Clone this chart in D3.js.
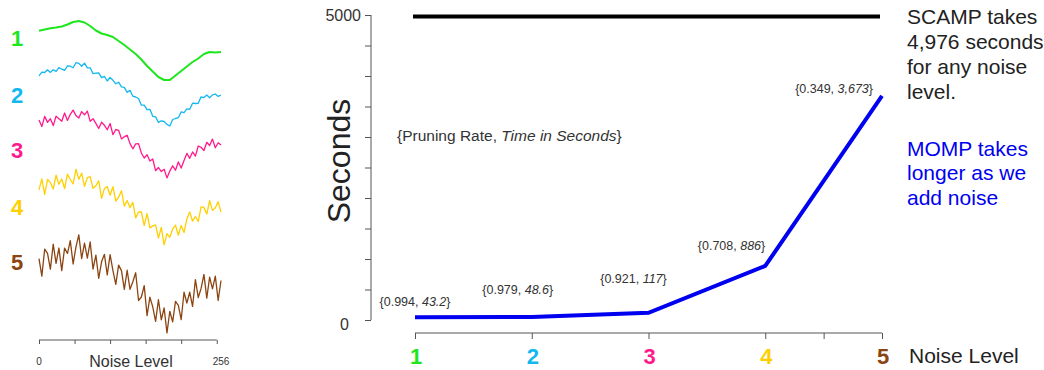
<!DOCTYPE html>
<html>
<head>
<meta charset="utf-8">
<script src="https://cdn.jsdelivr.net/npm/d3@7"></script>
<style>
  body { margin: 0; background: #fff; }
  text { font-family: "Liberation Sans", Arial, sans-serif; }
</style>
</head>
<body>
<script>
// noise levels and their colours
var levels = [1, 2, 3, 4, 5];
var levelColors = ["#1ee61e", "#12b8f0", "#ff1a8c", "#ffd000", "#8b4513"];

// timing results
var mompSeconds = [43.2, 48.6, 117, 886, 3673];
var pruningRate = [0.994, 0.979, 0.921, 0.708, 0.349];
var mompLabels = ["43.2", "48.6", "117", "886", "3,673"];
var scampSeconds = 4976;

var yTicks = [0, 500, 1000, 1500, 2000, 2500, 3000, 3500, 4000, 4500, 5000];
var xTicks = [1, 2, 3, 4, 4.5, 5];
var leftTicks = [0, 50, 100, 150, 200, 250];

// example time series, one per noise level (length 256)
var series1 = [0, .12, .25, .32, .42, .62, .87, .97, .82, .47, .02, -.28, -.43, -.63, -1.03, -1.43,
  -1.88, -2.33, -2.88, -3.53, -4.08, -4.63, -4.93, -4.93, -4.48, -4.03, -3.58, -3.13, -2.78, -2.33,
  -2.13, -2.18, -2.13];
var series2 = [-.18, .18, .15, .42, .16, .43, .26, .64, .48, .37, .80, .78, .63, 1.13, 1.06, .78,
  1.09, .62, .62, .04, .08, .11, -.37, -.23, -.70, -.35, -.63, -.98, -.82, -1.29, -1.34, -1.83,
  -1.64, -2.22, -2.30, -2.45, -3.12, -3.11, -3.56, -3.53, -4.23, -4.29, -4.84, -4.68, -4.75, -5.04,
  -5.20, -4.55, -4.45, -4.37, -3.79, -3.86, -3.49, -3.53, -2.92, -2.95, -2.93, -2.28, -2.36, -2.11,
  -2.37, -2.09, -2.00, -2.24, -2.10];
var series3 = [.30, -.36, .66, .06, .43, -.26, .68, .43, .18, 1.00, .26, .87, 1.29, .74, .49, 1.14,
  .82, 1.19, .17, .43, -.04, -.55, .08, -.23, -.67, -.05, -1.17, -.65, -.73, -1.59, -1.37, -1.23,
  -2.06, -2.58, -2.09, -2.06, -3.00, -3.50, -3.17, -3.80, -3.60, -4.77, -4.45, -4.86, -4.63, -5.49,
  -4.81, -4.28, -4.72, -3.89, -4.51, -3.74, -3.04, -3.53, -2.89, -3.31, -2.30, -2.43, -2.75, -1.93,
  -2.25, -1.61, -2.48, -1.97, -2.19];
var series4 = [-.29, .82, -.74, .75, .44, -.20, 1.18, .27, .80, -.15, 1.29, .75, .30, 1.78, .78, 1.38,
  .06, .94, 1.04, -.13, .12, .63, -1.14, -.16, .05, -.82, .04, -1.40, -1.03, -.37, -1.91, -1.36,
  -2.07, -1.53, -3.09, -2.50, -2.50, -3.87, -2.67, -4.09, -3.89, -3.78, -5.11, -4.04, -5.79, -4.66,
  -5.03, -4.22, -3.81, -4.82, -3.84, -4.56, -3.20, -2.49, -3.42, -2.95, -3.45, -1.98, -2.04, -2.71,
  -1.37, -2.34, -2.08, -1.48, -2.51];
var series5 = [.30, -1.29, 1.17, .78, -.65, 1.63, -.13, 1.27, -.78, 1.27, .77, 1.95, -.18, 1.37, 2.47, .30,
  1.72, .35, 1.82, -.65, .62, -1.48, .02, .70, -1.18, .67, -.78, -2.03, -.28, -.78, -2.48, -.75,
  -2.48, -1.80, -.98, -3.50, -3.18, -2.15, -4.88, -3.20, -4.08, -5.40, -3.43, -5.25, -4.18, -6.45,
  -4.48, -5.45, -3.58, -3.95, -5.23, -2.75, -3.73, -2.75, -4.03, -1.60, -3.23, -2.40, -1.13, -3.28,
  -1.38, -2.45, -1.28, -3.50, -1.68];
var allSeries = [series1, series2, series3, series4, series5];

var W = 1044, H = 370;
var svg = d3.select("body").append("svg")
    .attr("width", W)
    .attr("height", H);

svg.append("rect").attr("width", W).attr("height", H).attr("fill", "#fff");

// ---------- left panel: the example series ----------
var seriesBase = [30.7, 74, 123, 187, 262];
var seriesUnit = [10, 10, 10, 10, 11];
var labelY = [38, 95, 150, 207, 262];
var xLeft = d3.scaleLinear().domain([0, 256]).range([39, 221]);

allSeries.forEach(function(s, i) {
    var y = d3.scaleLinear().domain([0, -5]).range([seriesBase[i], seriesBase[i] + 5 * seriesUnit[i]]);
    var line = d3.line()
        .x(function(d, j) { return xLeft(j * 256 / (s.length - 1)); })
        .y(function(d) { return y(d); });
    svg.append("path")
        .datum(s)
        .attr("d", line)
        .attr("fill", "none")
        .attr("stroke", levelColors[i])
        .attr("stroke-width", i === 0 ? 2 : 1.3)
        .attr("stroke-linejoin", "round");

    svg.append("text")
        .attr("x", 17)
        .attr("y", labelY[i])
        .attr("dy", "0.36em")
        .attr("text-anchor", "middle")
        .attr("font-size", 22)
        .attr("font-weight", "bold")
        .attr("fill", levelColors[i])
        .text(levels[i]);
});

var leftAxis = svg.append("g")
    .attr("transform", "translate(0,340)")
    .call(d3.axisBottom(xLeft).tickValues(leftTicks).tickSize(4).tickFormat(""));
leftAxis.select(".domain").attr("d", "M" + xLeft(0) + ",0H" + xLeft(250));
leftAxis.selectAll("path, line").attr("stroke", "#555");

svg.append("text").attr("x", xLeft(0)).attr("y", 365)
    .attr("text-anchor", "middle").attr("font-size", 10).attr("fill", "#333").text("0");
svg.append("text").attr("x", xLeft(256)).attr("y", 365)
    .attr("text-anchor", "middle").attr("font-size", 10).attr("fill", "#333").text("256");
svg.append("text").attr("x", 131).attr("y", 367)
    .attr("text-anchor", "middle").attr("font-size", 16).attr("fill", "#333").text("Noise Level");

// ---------- right panel: time vs noise level ----------
var x = d3.scaleLinear().domain([1, 5]).range([415, 882]);
var y = d3.scaleLinear().domain([0, 5000]).range([320, 15]);

var yAxis = svg.append("g")
    .attr("transform", "translate(371,0)")
    .call(d3.axisLeft(y).tickValues(yTicks).tickSize(6).tickPadding(4)
        .tickFormat(function(d) { return d === 0 || d === 5000 ? d : ""; }));
yAxis.select(".domain").attr("d", "M0," + y(5000) + "V" + y(0));
yAxis.selectAll("path, line").attr("stroke", "#555");
yAxis.selectAll("text")
    .attr("font-size", 16)
    .attr("fill", "#333")
    .style("font-family", "'Liberation Sans', Arial, sans-serif");
yAxis.selectAll(".tick").filter(function(d) { return d === 0; })
    .select("text").attr("x", -22).attr("dy", "0.6em");

var xAxis = svg.append("g")
    .attr("transform", "translate(0,333)")
    .call(d3.axisBottom(x).tickValues(xTicks).tickSize(6).tickFormat(""));
xAxis.select(".domain").attr("d", "M" + x(1) + ",0H" + x(5));
xAxis.selectAll("path, line").attr("stroke", "#555");

svg.selectAll(".lvl")
    .data(levels)
    .enter().append("text")
    .attr("x", function(d) { return x(d) + 1; })
    .attr("y", 356)
    .attr("dy", "0.36em")
    .attr("text-anchor", "middle")
    .attr("font-size", 22)
    .attr("font-weight", "bold")
    .attr("fill", function(d, i) { return levelColors[i]; })
    .text(function(d) { return d; });

svg.append("text").attr("x", 909).attr("y", 355).attr("dy", "0.36em")
    .attr("font-size", 21).attr("fill", "#222").text("Noise Level");

svg.append("text")
    .attr("transform", "translate(338,161) rotate(-90)")
    .attr("text-anchor", "middle")
    .attr("dy", "0.36em")
    .attr("font-size", 32)
    .attr("fill", "#222")
    .text("Seconds");

// SCAMP: constant time
svg.append("path")
    .datum([1, 5])
    .attr("d", d3.line()
        .x(function(d) { return x(d); })
        .y(function() { return y(scampSeconds); }))
    .attr("transform", "translate(-2,0)")
    .attr("stroke", "#000")
    .attr("stroke-width", 4);

// MOMP
svg.append("path")
    .datum(mompSeconds)
    .attr("d", d3.line()
        .x(function(d, i) { return x(levels[i]); })
        .y(function(d) { return y(d); }))
    .attr("fill", "none")
    .attr("stroke", "#0000f0")
    .attr("stroke-width", 4)
    .attr("stroke-linejoin", "miter");

// point annotations
var annDx = [0, -14, -15, 0, -9];
var annDy = [-16, -28, -34, -20, -7];
var annAnchor = ["middle", "middle", "middle", "end", "end"];
mompSeconds.forEach(function(d, i) {
    var t = svg.append("text")
        .attr("x", x(levels[i]) + annDx[i])
        .attr("y", y(d) + annDy[i])
        .attr("dy", "0.36em")
        .attr("text-anchor", annAnchor[i])
        .attr("font-size", 12.5)
        .attr("fill", "#333");
    t.append("tspan").text("{" + pruningRate[i] + ", ");
    t.append("tspan").attr("font-style", "italic").text(mompLabels[i]);
    t.append("tspan").text("}");
});

var key = svg.append("text")
    .attr("x", 397).attr("y", 135).attr("dy", "0.36em")
    .attr("font-size", 15.5).attr("fill", "#333");
key.append("tspan").text("{Pruning Rate, ");
key.append("tspan").attr("font-style", "italic").text("Time in Seconds");
key.append("tspan").text("}");

// side notes
var noteScamp = ["SCAMP takes", "4,976 seconds", "for any noise", "level."];
var noteMomp = ["MOMP takes", "longer as we", "add noise"];
noteScamp.forEach(function(s, i) {
    svg.append("text").attr("x", 907).attr("y", 16 + i * 25).attr("dy", "0.36em")
        .attr("font-size", 21).attr("fill", "#222").text(s);
});
noteMomp.forEach(function(s, i) {
    svg.append("text").attr("x", 907).attr("y", 148 + i * 24.5).attr("dy", "0.36em")
        .attr("font-size", 21).attr("fill", "#0000f0").text(s);
});
</script>
</body>
</html>
